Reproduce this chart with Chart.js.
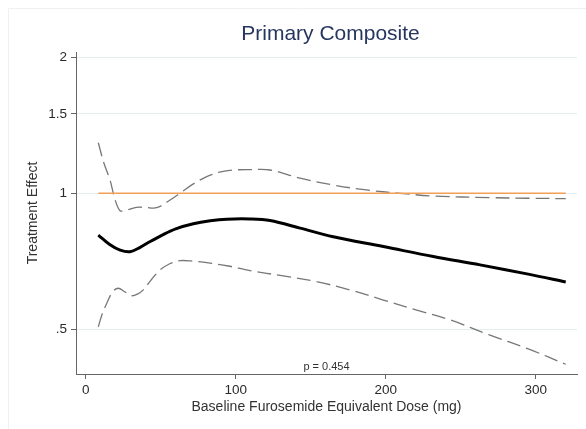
<!DOCTYPE html>
<html>
<head>
<meta charset="utf-8">
<script src="https://cdn.jsdelivr.net/npm/chart.js@4/dist/chart.umd.min.js"></script>
<style>
  html, body { margin: 0; padding: 0; background: #fff; }
  #wrap { width: 586px; height: 429px; position: relative; }
</style>
</head>
<body>
<div id="wrap"><canvas id="c" width="586" height="429"></canvas></div>
<script>
// Text
const chartTitle = 'Primary Composite';
const xAxisTitle = 'Baseline Furosemide Equivalent Dose (mg)';
const yAxisTitle = 'Treatment Effect';
const pValueLabel = 'p = 0.454';

// Axis ticks
const xTickValues = [0, 100, 200, 300];
const yTickValues = [0.5, 1, 1.5, 2];
const yTickLabels = ['.5', '1', '1.5', '2'];

// Reference line (no effect)
const referenceValue = 1;
const referenceDose = [8.4, 320];

// Point estimate of the treatment effect by baseline dose
const estDose   = [8.4, 16, 23, 29.5, 36, 43, 51, 60, 71.7, 83, 94, 109.5, 122.9, 142.9, 165, 198.4, 231.7, 262.9, 295, 320];
const estEffect = [0.808, 0.770, 0.748, 0.742, 0.758, 0.782, 0.808, 0.834, 0.856, 0.869, 0.876, 0.877, 0.870, 0.837, 0.801, 0.762, 0.724, 0.694, 0.662, 0.636];

// Upper confidence bound
const upperDose = [8.4, 12, 16.2, 19.5, 22.9, 27, 34, 40, 47.3, 55, 62.9, 71, 80.7, 90, 98.4, 109.5, 122.9, 142.9, 165, 187, 209.5, 231.7, 269.5, 295, 320];
const upperCI   = [1.294, 1.17, 1.07, 0.97, 0.915, 0.918, 0.931, 0.930, 0.929, 0.960, 1.0, 1.045, 1.089, 1.115, 1.126, 1.128, 1.126, 1.080, 1.043, 1.017, 1.0, 0.986, 0.978, 0.975, 0.973];

// Lower confidence bound
const lowerDose = [8.4, 11, 14, 18, 21.7, 26, 30.7, 34.5, 38.4, 44, 49.5, 56, 62.9, 70, 82.9, 95, 109.5, 131.7, 153.9, 176, 198.4, 220.7, 243, 269.5, 295, 320];
const lowerCI   = [0.506, 0.540, 0.570, 0.605, 0.616, 0.605, 0.593, 0.598, 0.611, 0.645, 0.676, 0.698, 0.709, 0.708, 0.700, 0.690, 0.674, 0.656, 0.637, 0.611, 0.580, 0.551, 0.524, 0.485, 0.452, 0.418];

const toPoints = (xs, ys) => xs.map((x, i) => ({ x: x, y: ys[i] }));

const FONT = "'Liberation Sans', Arial, Helvetica, sans-serif";
Chart.defaults.font.family = FONT;

// Title, p-value and the faint frame edges
const overlayText = {
  id: 'overlayText',
  afterDraw(chart) {
    const { ctx, chartArea } = chart;
    const cx = (chartArea.left + chartArea.right) / 2;
    ctx.save();
    ctx.strokeStyle = '#eef1f1';
    ctx.lineWidth = 1;
    ctx.beginPath();
    ctx.moveTo(8.5, 429); ctx.lineTo(8.5, 8.5); ctx.lineTo(586, 8.5);
    ctx.stroke();
    ctx.textAlign = 'center';
    ctx.textBaseline = 'middle';
    ctx.fillStyle = '#273660';
    ctx.font = '21px ' + FONT;
    ctx.fillText(chartTitle, cx + 4, 34.5);
    ctx.fillStyle = '#333';
    ctx.font = '11px ' + FONT;
    ctx.fillText(pValueLabel, cx, 367);
    ctx.restore();
  }
};

const dashStyle = {
  borderColor: '#777',
  borderWidth: 1.3,
  borderDash: [14, 6],
  tension: 0.35,
  pointRadius: 0
};

new Chart(document.getElementById('c'), {
  type: 'line',
  data: {
    datasets: [
      {
        data: toPoints(estDose, estEffect),
        borderColor: '#000',
        borderWidth: 3,
        tension: 0.35,
        pointRadius: 0
      },
      {
        data: toPoints(referenceDose, [referenceValue, referenceValue]),
        borderColor: '#f2a057',
        borderWidth: 1.6,
        pointRadius: 0
      },
      Object.assign({ data: toPoints(upperDose, upperCI) }, dashStyle),
      Object.assign({ data: toPoints(lowerDose, lowerCI) }, dashStyle)
    ]
  },
  options: {
    responsive: false,
    animation: false,
    devicePixelRatio: 1,
    layout: { padding: { top: 52, right: 9, left: 0, bottom: 0 } },
    plugins: {
      legend: { display: false },
      tooltip: { enabled: false },
      title: { display: false }
    },
    scales: {
      x: {
        type: 'linear',
        min: -6.47,
        max: 327.5,
        afterBuildTicks: s => { s.ticks = xTickValues.map(v => ({ value: v })); },
        afterFit: s => { s.height = 55; },
        border: { display: true, color: '#666', width: 1 },
        grid: { drawOnChartArea: false, drawTicks: true, tickLength: 5, tickColor: '#666' },
        ticks: { color: '#2a2a2a', font: { size: 13.5 }, padding: 3, maxRotation: 0, autoSkip: false },
        title: {
          display: true, text: xAxisTitle, color: '#333',
          font: { size: 14 }, padding: { top: 0, bottom: 13 }
        }
      },
      y: {
        type: 'logarithmic',
        min: 0.3977,
        max: 2.056,
        afterBuildTicks: s => { s.ticks = yTickValues.map(v => ({ value: v })); },
        afterFit: s => { s.width = 76; },
        border: { display: true, color: '#666', width: 1 },
        grid: { color: '#e3eeee', lineWidth: 1, drawTicks: true, tickLength: 5, tickColor: '#666' },
        ticks: {
          color: '#2a2a2a', font: { size: 13.5 }, padding: 4, autoSkip: false,
          callback: (v, i) => yTickLabels[i]
        },
        title: {
          display: true, text: yAxisTitle, color: '#333',
          font: { size: 14 }, padding: { top: 25, bottom: 0 }
        }
      }
    }
  },
  plugins: [overlayText]
});
</script>
</body>
</html>
